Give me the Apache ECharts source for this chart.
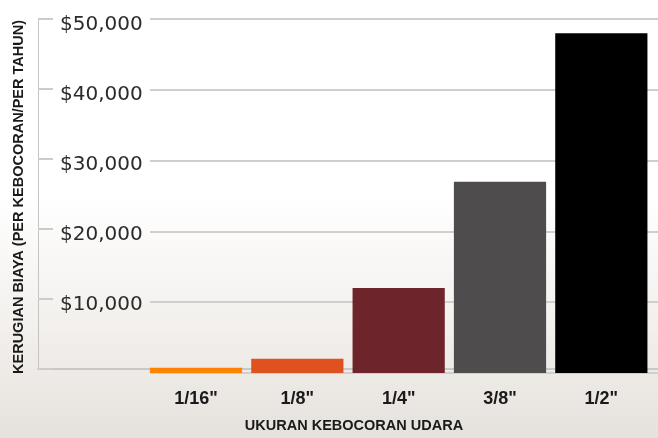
<!DOCTYPE html>
<html>
<head>
<meta charset="utf-8">
<script src="https://cdn.jsdelivr.net/npm/echarts@6/dist/echarts.min.js"></script>
<style>
  html, body { margin: 0; padding: 0; }
  #chart { width: 658px; height: 438px; }
</style>
</head>
<body>
<div id="chart"></div>
<script>
// ukuran kebocoran dan kerugian biaya per tahun
const leakSizes = ['1/16"', '1/8"', '1/4"', '3/8"', '1/2"'];
const costValues = [750, 2000, 12000, 27000, 48000];
const barColors = ['#ff8200', '#df521f', '#6d242a', '#4e4c4d', '#000000'];
const yTicks = [0, 10000, 20000, 30000, 40000, 50000];

const yMin = yTicks[0];
const yMax = yTicks[yTicks.length - 1];
const yStep = yTicks[1] - yTicks[0];

const myChart = echarts.init(document.getElementById('chart'));

myChart.setOption({
  animation: false,
  backgroundColor: {
    type: 'linear', x: 0, y: 0, x2: 0, y2: 1,
    colorStops: [
      { offset: 0, color: '#ffffff' },
      { offset: 0.45, color: '#ffffff' },
      { offset: 0.85, color: '#eeeae6' },
      { offset: 1, color: '#e5e1dc' }
    ]
  },
  grid: [
    { left: 38, right: 0, top: 19, bottom: 65 },   // sumbu
    { left: 150, right: 0, top: 19, bottom: 65 },  // garis bantu
    { left: 44, right: 6, top: 19, bottom: 65 }    // batang
  ],
  xAxis: [
    {
      gridIndex: 0, type: 'value', min: 0, max: 1,
      axisLine: { show: true, lineStyle: { color: '#c8c8c8', width: 2 } },
      axisTick: { show: false }, axisLabel: { show: false }, splitLine: { show: false },
      name: 'UKURAN KEBOCORAN UDARA',
      nameLocation: 'middle',
      nameGap: 49,
      nameTextStyle: {
        fontFamily: 'Liberation Sans', fontWeight: 'bold', fontSize: 14.5,
        color: '#1a1a1a', padding: [0, 0, 0, 12]
      }
    },
    {
      gridIndex: 1, type: 'value', min: 0, max: 1, show: false
    },
    {
      gridIndex: 2, type: 'category',
      data: [''].concat(leakSizes),
      axisLine: { show: false }, axisTick: { show: false },
      axisLabel: {
        margin: 17, fontFamily: 'Liberation Sans', fontWeight: 'bold',
        fontSize: 18, color: '#1a1a1a'
      }
    }
  ],
  yAxis: [
    {
      gridIndex: 0, type: 'value', min: yMin, max: yMax, interval: yStep,
      axisLine: { show: true, lineStyle: { color: '#c4c4c4', width: 1 } },
      axisTick: { show: true, inside: true, length: 15, lineStyle: { color: '#cccccc', width: 2 } },
      axisLabel: {
        inside: true, margin: 22, verticalAlign: 'top', lineHeight: 11,
        fontFamily: 'DejaVu Sans', fontSize: 20, color: '#2b2b2b',
        formatter: v => v === 0 ? '' : '$' + v.toLocaleString('en-US')
      },
      splitLine: { show: false },
      name: 'KERUGIAN BIAYA (PER KEBOCORAN/PER TAHUN)',
      nameLocation: 'middle',
      nameRotate: 90,
      nameGap: 12,
      nameTextStyle: {
        fontFamily: 'Liberation Sans', fontWeight: 'bold', fontSize: 14.5,
        color: '#1a1a1a', padding: [0, 6, 0, 0]
      }
    },
    {
      gridIndex: 1, type: 'value', min: yMin, max: yMax, interval: yStep,
      axisLine: { show: false }, axisTick: { show: false }, axisLabel: { show: false },
      splitLine: { show: true, lineStyle: { color: '#cfcfcf', width: 2 } }
    },
    {
      gridIndex: 2, type: 'value', min: yMin, max: yMax, interval: yStep,
      show: false, splitLine: { show: false }
    }
  ],
  series: [
    {
      type: 'bar',
      xAxisIndex: 2,
      yAxisIndex: 2,
      barCategoryGap: '9%',
      data: [null].concat(costValues.map((v, i) => ({
        value: v,
        itemStyle: { color: barColors[i] }
      })))
    }
  ]
});

window.onresize = function () {
  myChart.resize();
};
</script>
</body>
</html>
